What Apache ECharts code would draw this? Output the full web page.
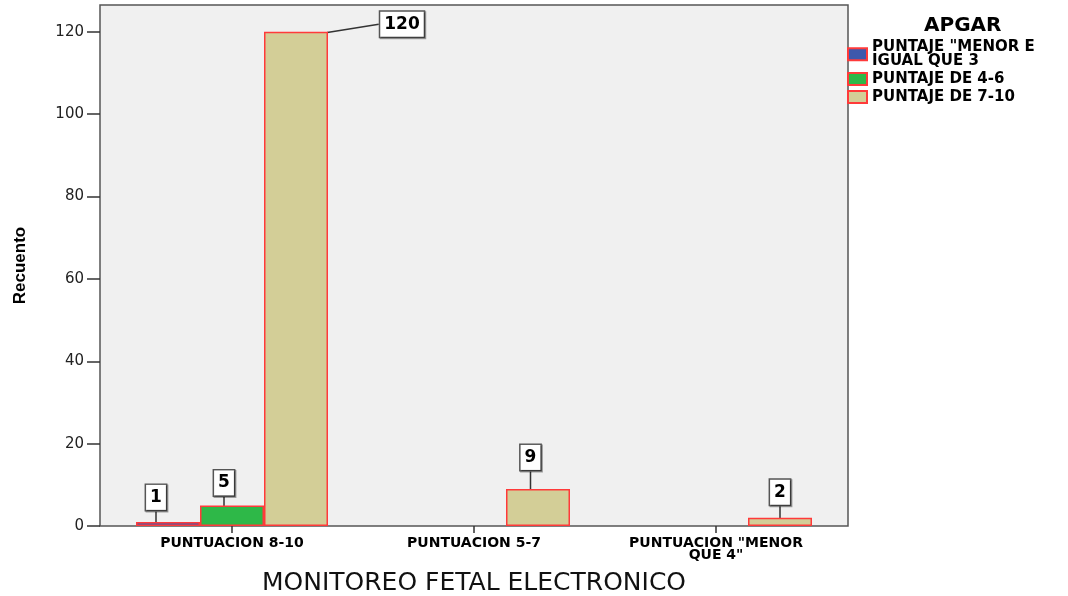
<!DOCTYPE html>
<html>
<head>
<meta charset="utf-8">
<script src="https://cdn.jsdelivr.net/npm/echarts@6/dist/echarts.min.js"></script>
<style>
html,body{margin:0;padding:0;background:#fff;}
#c{width:1068px;height:596px;}
</style>
</head>
<body>
<div id="c"></div>
<script>
const categories = ['PUNTUACION 8-10', 'PUNTUACION 5-7', 'PUNTUACION "MENOR\nQUE 4"'];
const seriesNames = ['PUNTAJE "MENOR E\nIGUAL QUE 3', 'PUNTAJE DE 4-6', 'PUNTAJE DE 7-10'];
const valsMenor3 = [1, null, null];
const vals4a6 = [5, null, null];
const vals7a10 = [120, 9, 2];
const yTicks = [0, 20, 40, 60, 80, 100, 120];
const colors = ['#3e58ac', '#2eb848', '#d3ce97'];

// label offsets (layout only)
const labelShift = [
  [[-12, -12], null, null],
  [[-8, -10], null, null],
  [[106, 5], [-7.5, -19], [0, -13]]
];

const chart = echarts.init(document.getElementById('c'), null, {renderer: 'canvas'});
const Y_MAX = 126.5;
const labelStyle = {
  show: true,
  position: 'top',
  distance: 0,
  fontFamily: 'DejaVu Sans',
  fontWeight: 'bold',
  fontSize: 17,
  lineHeight: 17,
  color: '#000',
  backgroundColor: '#fff',
  borderColor: '#555',
  borderWidth: 1.5,
  padding: [4, 4],
  shadowColor: 'rgba(0,0,0,0.35)',
  shadowOffsetX: 1,
  shadowOffsetY: 1,
  shadowBlur: 0
};
function makeSeries(i, data) {
  return {
    type: 'bar',
    name: seriesNames[i],
    xAxisIndex: 1,
    yAxisIndex: 1,
    data: data,
    barWidth: 64,
    barGap: '0%',
    itemStyle: {color: colors[i], borderColor: '#ff3a3a', borderWidth: 1.5},
    label: labelStyle,
    labelLine: {show: true, lineStyle: {color: '#333', width: 1.5}},
    labelLayout: function (p) {
      const s = labelShift[p.seriesIndex][p.dataIndex];
      return s ? {dx: s[0], dy: s[1]} : {};
    }
  };
}
const option = {
  animation: false,
  backgroundColor: '#fff',
  title: {
    text: 'APGAR',
    left: 919,
    top: 11,
    textStyle: {fontFamily: 'DejaVu Sans', fontWeight: 'bold', fontSize: 20, color: '#000'}
  },
  legend: {
    orient: 'vertical',
    left: 847,
    top: 40,
    padding: 0,
    itemGap: 3,
    itemWidth: 19,
    itemHeight: 12,
    icon: 'rect',
    data: seriesNames,
    textStyle: {fontFamily: 'DejaVu Sans', fontWeight: 'bold', fontSize: 15, lineHeight: 13.5, color: '#000'}
  },
  grid: [
    {left: 100, top: 5, width: 748, height: 521, show: true, backgroundColor: '#f0f0f0', borderColor: '#555', borderWidth: 1.5, containLabel: false, outerBoundsMode: 'none'},
    {left: 111, top: 5, width: 726, height: 521, containLabel: false, outerBoundsMode: 'none'}
  ],
  xAxis: [
    {gridIndex: 0, type: 'value', show: false, min: 0, max: 1},
    {
      gridIndex: 1,
      type: 'category',
      data: categories,
      axisLine: {show: false},
      axisTick: {show: true, alignWithLabel: true, length: 7, lineStyle: {color: '#333', width: 1.5}},
      axisLabel: {
        interval: 0, margin: 11,
        fontFamily: 'DejaVu Sans', fontWeight: 'bold', fontSize: 14, lineHeight: 12, color: '#000'
      },
      name: 'MONITOREO FETAL ELECTRONICO',
      nameLocation: 'middle',
      nameGap: 45,
      nameTextStyle: {fontFamily: 'DejaVu Sans', fontSize: 25, color: '#111'}
    }
  ],
  yAxis: [
    {
      gridIndex: 0,
      type: 'value',
      min: 0,
      max: Y_MAX,
      axisLine: {show: false},
      splitLine: {show: false},
      axisTick: {show: true, length: 13, customValues: yTicks, lineStyle: {color: '#333', width: 1.5}},
      axisLabel: {customValues: yTicks, margin: 16, fontFamily: 'DejaVu Sans', fontSize: 15, color: '#222'},
      name: 'Recuento',
      nameLocation: 'middle',
      nameRotate: 90,
      nameGap: 71,
      nameTextStyle: {fontFamily: 'Liberation Sans', fontWeight: 'bold', fontSize: 17, color: '#000'}
    },
    {gridIndex: 1, type: 'value', min: 0, max: Y_MAX, show: false, splitLine: {show: false}}
  ],
  series: [
    makeSeries(0, valsMenor3),
    makeSeries(1, vals4a6),
    makeSeries(2, vals7a10)
  ]
};
chart.setOption(option);
</script>
</body>
</html>
